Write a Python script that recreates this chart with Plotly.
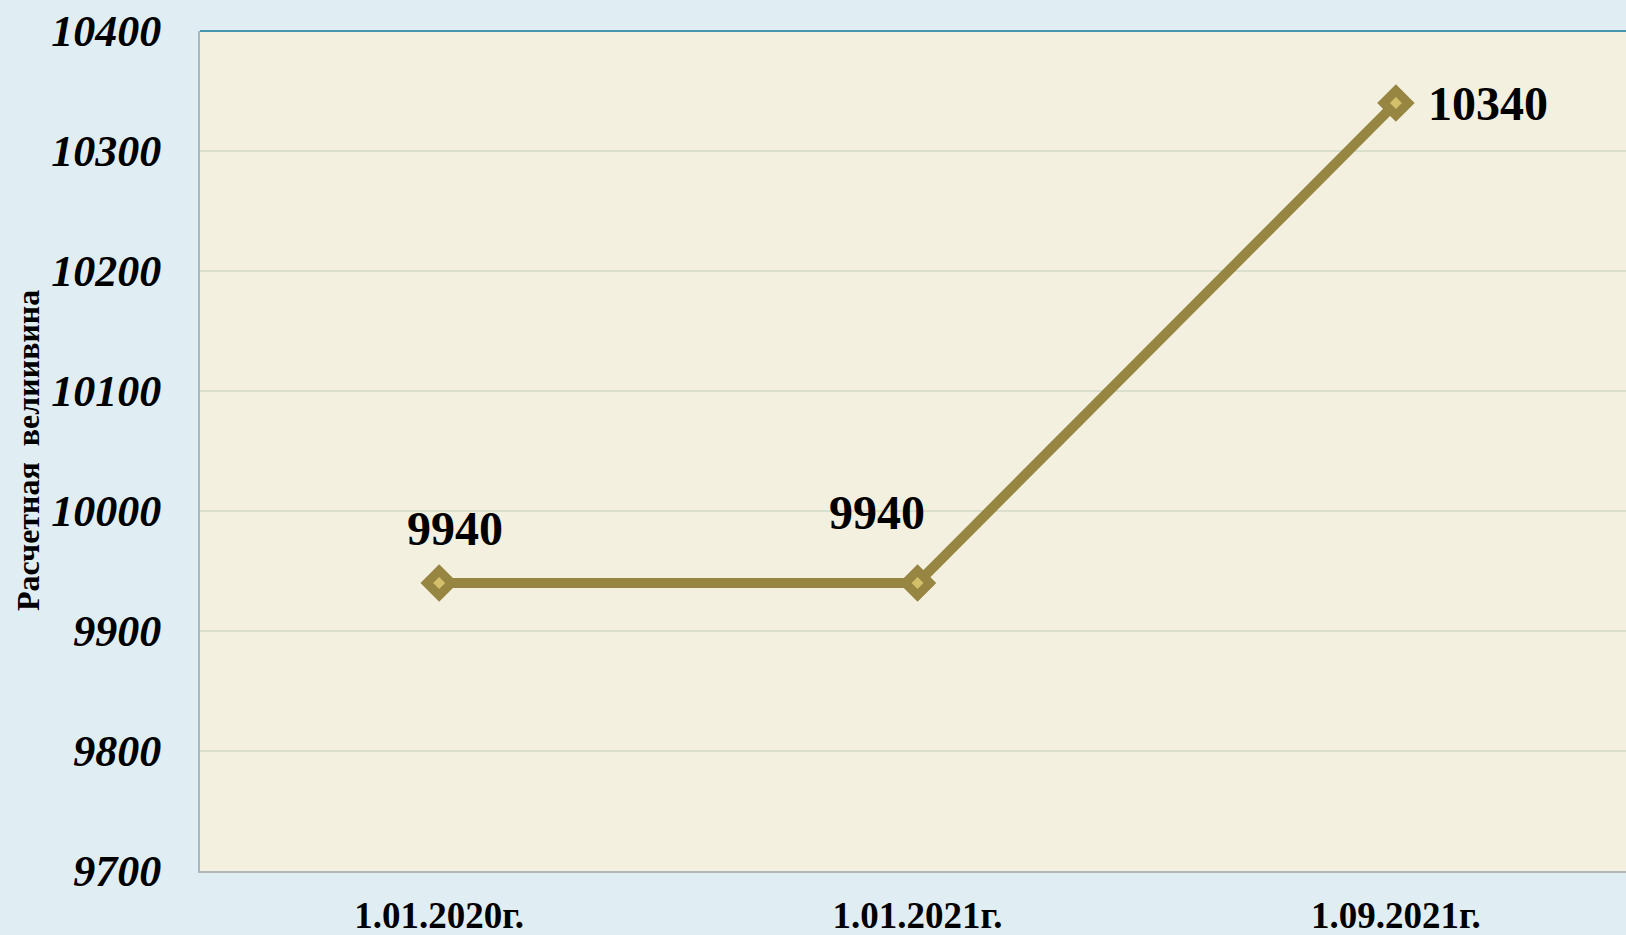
import plotly.graph_objects as go

categories = ["1.01.2020г.", "1.01.2021г.", "1.09.2021г."]
values = [9940, 9940, 10340]
y_ticks = [9700, 9800, 9900, 10000, 10100, 10200, 10300, 10400]
y_title = "Расчетная  велиивина"

# label offsets in pixels (style, not data)
label_dx = [16, -41, 92]
label_dy = [55, 71, 0]

line_col = "#978642"
fill_col = "#d4bf6a"

fig = go.Figure()
fig.add_trace(go.Scatter(
    x=categories, y=values, mode="lines+markers",
    line=dict(color=line_col, width=10),
    marker=dict(symbol="diamond", size=19, color=fill_col,
                line=dict(color=line_col, width=9)),
    cliponaxis=False, showlegend=False,
))

for c, v, dx, dy in zip(categories, values, label_dx, label_dy):
    fig.add_annotation(x=c, y=v, text=str(v), showarrow=False,
                       xshift=dx, yshift=dy,
                       font=dict(family="Liberation Serif", size=48, color="black", weight="bold"))

fig.add_annotation(xref="paper", yref="paper", x=-172/1426, y=0.5,
                   xanchor="center", yanchor="middle",
                   text=y_title, textangle=-90, showarrow=False,
                   font=dict(family="Liberation Serif", size=32, color="black", weight="bold"))

fig.add_shape(type="line", xref="paper", yref="paper", x0=0, x1=1.02, y0=1, y1=1,
              line=dict(color="#4496ae", width=2))

fig.update_layout(
    width=1626, height=935,
    margin=dict(l=200, r=0, t=31, b=64),
    paper_bgcolor="#e0eef4", plot_bgcolor="#f3f0e0",
    xaxis=dict(range=[-0.5, 2.481], showgrid=False, showline=True,
               linecolor="#b2b6b6", linewidth=2, ticks="", automargin=False,
               tickfont=dict(family="Liberation Serif", size=37, color="black", weight="bold"),
               ticklabelstandoff=11, zeroline=False),
    yaxis=dict(range=[9700, 10400], tickvals=y_ticks, ticktext=[str(t) for t in y_ticks],
               showgrid=True, automargin=False,
               gridcolor="#d9dfcc", gridwidth=2, showline=True,
               linecolor="#a9b9c2", linewidth=2, ticks="", zeroline=False,
               tickfont=dict(family="Liberation Serif", size=44, color="black",
                             weight="bold", style="italic"),
               ticklabelstandoff=28),
)

fig.write_html("out.html", config={"displayModeBar": False},
               post_script="document.body.style.margin='0';document.body.style.overflow='hidden';")
